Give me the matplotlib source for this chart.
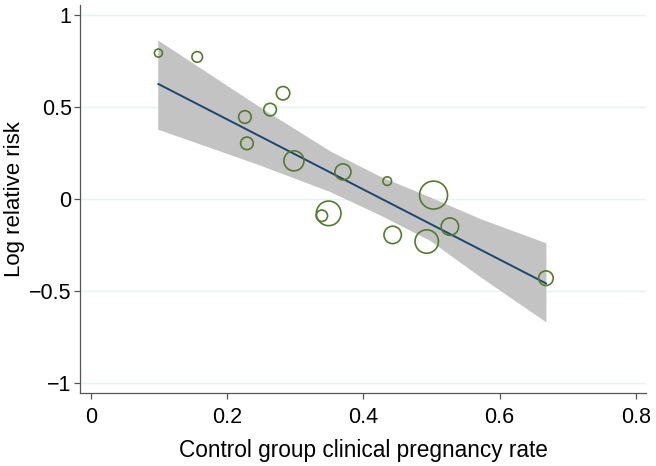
import matplotlib
matplotlib.use("Agg")
import matplotlib.pyplot as plt
import numpy as np

# Study points: control group rate, log relative risk, bubble radius (px, study weight)
ctrl_rate = [0.099, 0.156, 0.226, 0.263, 0.282, 0.229, 0.298, 0.370,
             0.435, 0.503, 0.349, 0.339, 0.443, 0.493, 0.527, 0.668]
log_rr = [0.793, 0.772, 0.446, 0.486, 0.575, 0.303, 0.208, 0.148,
          0.098, 0.022, -0.077, -0.090, -0.194, -0.230, -0.149, -0.429]
weight = [4.0, 5.3, 6.3, 6.3, 6.7, 6.3, 10.0, 8.0,
          4.3, 14.0, 12.3, 5.7, 8.7, 11.7, 8.7, 7.3]

# Fitted line and confidence band
fit_x = [0.099, 0.668]
fit_y = [0.625, -0.457]
band_x = [0.098, 0.248, 0.351, 0.424, 0.498, 0.571, 0.668]
band_hi = [0.864, 0.500, 0.262, 0.125, 0.012, -0.105, -0.237]
band_lo = [0.380, 0.185, 0.041, -0.085, -0.225, -0.420, -0.666]

xticks = [0, 0.2, 0.4, 0.6, 0.8]
xticklabels = ["0", "0.2", "0.4", "0.6", "0.8"]
yticks = [-1, -0.5, 0, 0.5, 1]
yticklabels = ["\u22121", "\u22120.5", "0", "0.5", "1"]

plt.rcParams['font.family'] = ['Liberation Sans', 'DejaVu Sans']

fig = plt.figure(figsize=(6.56, 4.66), dpi=100)
ax = fig.add_axes([0.1227, 0.1567, 0.9848 - 0.1227, 0.9893 - 0.1567])

for yt in yticks:
    ax.axhline(yt, color='#e8f0f1', lw=1.0, zorder=0)

ax.fill_between(band_x, band_lo, band_hi, color='#c3c3c3', lw=0, zorder=1)
ax.plot(fit_x, fit_y, color='#1a476f', lw=1.4, zorder=3)

sizes = [(2 * r * 0.72) ** 2 for r in weight]
ax.scatter(ctrl_rate, log_rr, s=sizes, facecolors='none', edgecolors='#557a2c',
           linewidths=1.2, zorder=4)

ax.set_xlim(-0.0154, 0.815)
ax.set_ylim(-1.052, 1.054)
ax.set_xticks(xticks)
ax.set_xticklabels(xticklabels)
ax.set_yticks(yticks)
ax.set_yticklabels(yticklabels)

for s in ['top', 'right']:
    ax.spines[s].set_visible(False)
for s in ['left', 'bottom']:
    ax.spines[s].set_color('#555555')
    ax.spines[s].set_linewidth(0.9)

ax.tick_params(axis='both', direction='out', length=4.3, width=0.9,
               color='#555555', labelsize=15.5)
ax.tick_params(axis='x', pad=6)
ax.tick_params(axis='y', pad=2)

ax.set_xlabel("Control group clinical pregnancy rate", fontsize=16.3, labelpad=8)
ax.set_ylabel("Log relative risk", fontsize=16, labelpad=3)

fig.savefig("out.png", dpi=100)
